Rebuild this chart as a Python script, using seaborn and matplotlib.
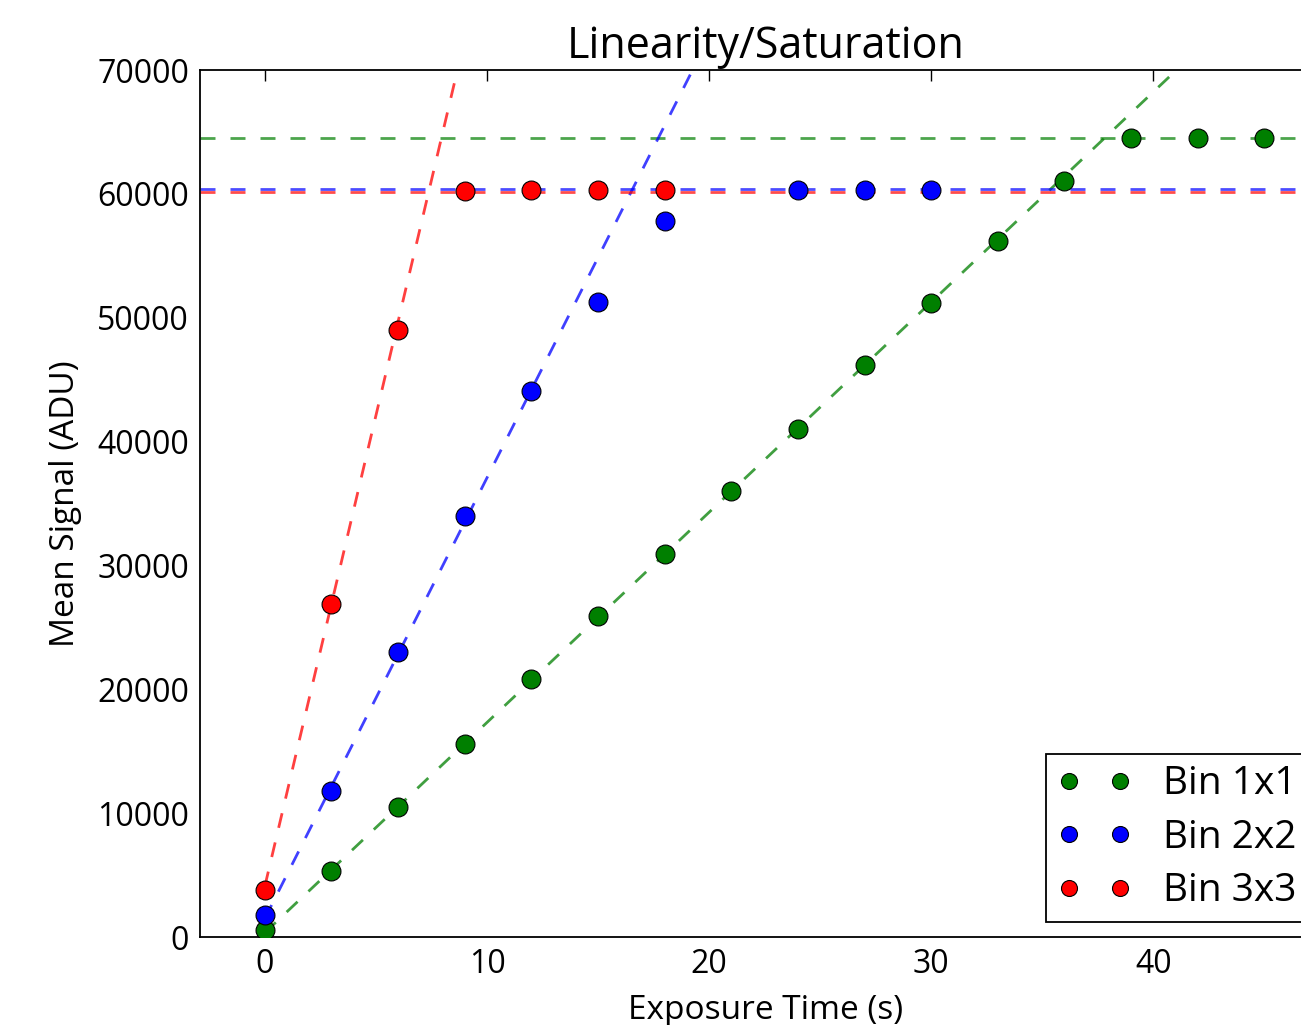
import matplotlib
matplotlib.use("Agg")
import matplotlib.pyplot as plt
import seaborn as sns
import numpy as np
import pandas as pd
from matplotlib.lines import Line2D

# ---- data ----
x_bin1 = [0, 3, 6, 9, 12, 15, 18, 21, 24, 27, 30, 33, 36, 39, 42, 45]
y_bin1 = [600, 5300, 10500, 15600, 20800, 25900, 30900, 36000, 41000, 46200,
          51200, 56200, 61000, 64500, 64500, 64500]
x_bin2 = [0, 3, 6, 9, 12, 15, 18, 24, 27, 30]
y_bin2 = [1800, 11800, 23000, 34000, 44100, 51300, 57800, 60300, 60300, 60300]
x_bin3 = [0, 3, 6, 9, 12, 15, 18]
y_bin3 = [3800, 26900, 49000, 60200, 60300, 60300, 60300]

labels = ["Bin 1x1", "Bin 2x2", "Bin 3x3"]
colors = ["#007f00", "#0000ff", "#ff0000"]
# linear fit parameters (slope ADU/s, intercept ADU) and saturation levels
fit_slope = [1697, 3557, 7600]
fit_intercept = [350, 1500, 4100]
fit_x_end = [48, 48, 48]
sat_level = [64500, 60400, 60150]

sns.set_style("white")
plt.rcParams["font.family"] = ["Open Sans", "DejaVu Sans"]
plt.rcParams["text.color"] = "black"
plt.rcParams["axes.labelcolor"] = "black"
plt.rcParams["xtick.color"] = "black"
plt.rcParams["ytick.color"] = "black"

fig = plt.figure(figsize=(13.01, 10.25), dpi=100)
W, H = 1301, 1025
ax = fig.add_axes([200 / W, (H - 937) / H, 1131 / W, 867 / H])

xs = [x_bin1, x_bin2, x_bin3]
ys = [y_bin1, y_bin2, y_bin3]
dash = (5.4, 5.4)

for i in range(3):
    # fit line
    fx = [0, fit_x_end[i]]
    fdf = pd.DataFrame({"x": fx, "y": [fit_intercept[i] + fit_slope[i] * v for v in fx]})
    sns.lineplot(data=fdf, x="x", y="y", ax=ax, color=colors[i], dashes=False,
                 linewidth=2, alpha=0.75, zorder=2)
    ax.lines[-1].set_dashes(dash)
    ax.axhline(sat_level[i], color=colors[i], linewidth=2, alpha=0.7, zorder=2,
               dashes=dash)

for i in range(3):
    df = pd.DataFrame({"x": xs[i], "y": ys[i]})
    sns.scatterplot(data=df, x="x", y="y", ax=ax, color=colors[i], s=185,
                    edgecolor="black", linewidth=0.8, zorder=3)

ax.set_xlim(-2.92, 48)
ax.set_ylim(0, 70000)
ax.set_xticks([0, 10, 20, 30, 40])
ax.set_yticks(np.arange(0, 70001, 10000))
ax.tick_params(direction="in", length=8, width=1, top=True, right=True,
               labelsize=23, pad=8, colors="black")
for s in ax.spines.values():
    s.set_visible(True)
    s.set_color("black")
    s.set_linewidth(1.3)

ax.set_title("Linearity/Saturation", fontsize=31, pad=9, color="black")
ax.set_xlabel("Exposure Time (s)", fontsize=24, labelpad=9)
ax.set_ylabel("Mean Signal (ADU)", fontsize=24, labelpad=11)

handles = [Line2D([], [], marker="o", linestyle="none", color=c, markeredgecolor="black",
                  markeredgewidth=0.8, markersize=11.5) for c in colors]
leg = fig.legend(handles, labels, loc="lower left", bbox_to_anchor=(1046 / W, (H - 922) / H),
                 borderaxespad=0, numpoints=2, fontsize=28, frameon=True, fancybox=False,
                 edgecolor="black", framealpha=1, borderpad=0.3, labelspacing=0.4,
                 handlelength=1.91, handletextpad=0.8)
leg.get_frame().set_linewidth(1.3)
for t in leg.get_texts():
    t.set_color("black")

fig.savefig("out.png", dpi=100)
